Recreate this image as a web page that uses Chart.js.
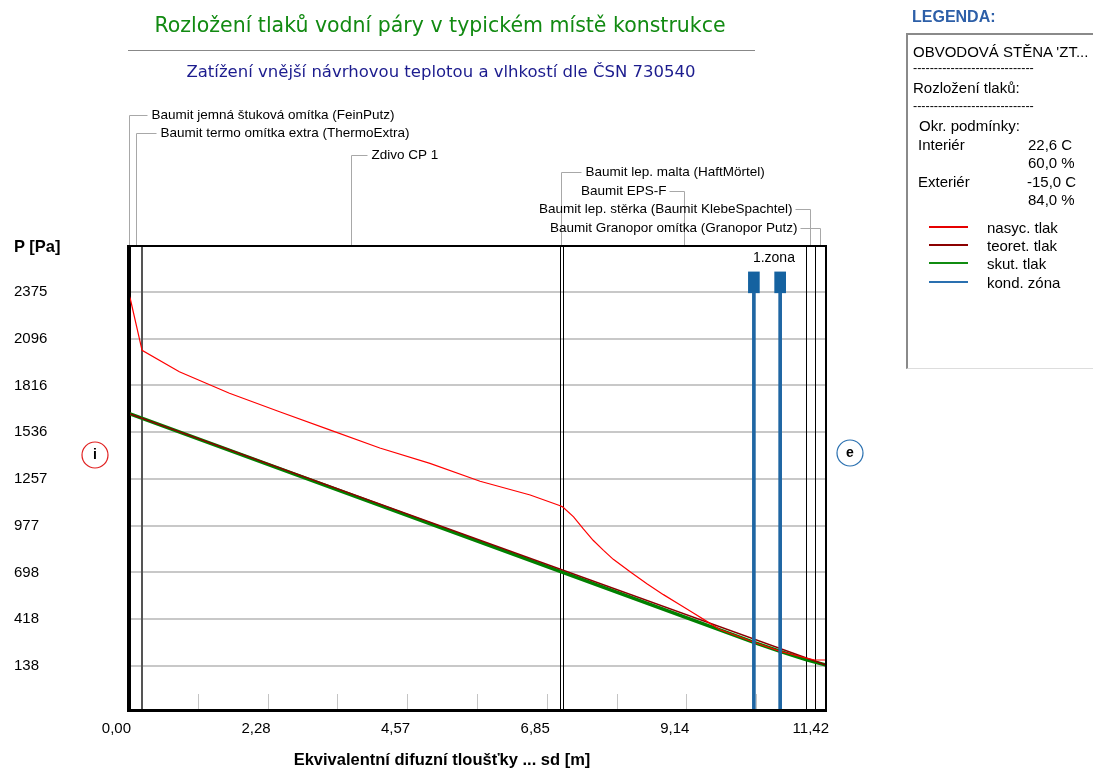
<!DOCTYPE html>
<html>
<head>
<meta charset="utf-8">
<script src="https://cdn.jsdelivr.net/npm/chart.js@4.4.1/dist/chart.umd.min.js"></script>
<style>
    body { margin: 0; background: #fff; width: 1093px; height: 769px; overflow: hidden; position: relative;
           font-family: 'Liberation Sans', Arial, sans-serif; }
    #chart { position: absolute; left: 0; top: 0; }
    .t { position: absolute; white-space: nowrap; transform: translateY(-50%); line-height: 1.2; color: #000; }
    .title { font-family: 'DejaVu Sans', sans-serif; font-size: 20.5px; color: #128a12; left: 0; width: 880px; text-align: center; }
    .sub { font-family: 'DejaVu Sans', sans-serif; font-size: 16.5px; color: #1c1c8e; left: 0; width: 882px; text-align: center; }
    .sep { position: absolute; left: 128px; top: 50px; width: 627px; height: 1px; background: #888; }
    .panel { position: absolute; left: 906px; top: 33px; width: 200px; height: 333px;
             border-left: 2px solid #8a8a8a; border-top: 2px solid #8a8a8a; border-bottom: 1px solid #ddd; }
    .leg { font-size: 15px; }
    .dash { font-size: 12.5px; }
    .sw { position: absolute; left: 929px; width: 39px; height: 2px; }
</style>
</head>
<body>
<canvas id="chart" width="900" height="769"></canvas>

<div class="t title" style="top:25px">Rozložení tlaků vodní páry v typickém místě konstrukce</div>
<div class="sep"></div>
<div class="t sub" style="top:72px">Zatížení vnější návrhovou teplotou a vlhkostí dle ČSN 730540</div>
<div class="t" style="left:14px; top:247px; font-weight:bold; font-size:16.5px">P [Pa]</div>
<div class="t" style="left:0; width:884px; text-align:center; top:760px; font-weight:bold; font-size:16.5px">Ekvivalentní difuzní tloušťky ... sd [m]</div>

<div class="t" style="left:912px; top:17px; font-weight:bold; font-size:16px; color:#2d5fa8">LEGENDA:</div>
<div class="panel"></div>
<div class="t leg" style="left:913px; top:52px">OBVODOVÁ STĚNA 'ZT...</div>
<div class="t dash" style="left:913px; top:68px">-----------------------------</div>
<div class="t leg" style="left:913px; top:88px">Rozložení tlaků:</div>
<div class="t dash" style="left:913px; top:106px">-----------------------------</div>
<div class="t leg" style="left:919px; top:126px">Okr. podmínky:</div>
<div class="t leg" style="left:918px; top:145px">Interiér</div>
<div class="t leg" style="left:1028px; top:145px">22,6 C</div>
<div class="t leg" style="left:1028px; top:163px">60,0 %</div>
<div class="t leg" style="left:918px; top:182px">Exteriér</div>
<div class="t leg" style="left:1027px; top:182px">-15,0 C</div>
<div class="t leg" style="left:1028px; top:200px">84,0 %</div>
<div id="legend-items"></div>

<script>
// osa x - ekvivalentni difuzni tloustka sd [m]
const xTickValues = [0, 2.284, 4.568, 6.852, 9.136, 11.42];
const xTickLabels = ['0,00', '2,28', '4,57', '6,85', '9,14', '11,42'];
// osa y - tlak [Pa]
const yTickValues = [138, 418, 698, 977, 1257, 1536, 1816, 2096, 2375];

// vrstvy konstrukce (interier -> exterier) a jejich hranice v sd
const layerNames = [
    'Baumit jemná štuková omítka (FeinPutz)',
    'Baumit termo omítka extra (ThermoExtra)',
    'Zdivo CP 1',
    'Baumit lep. malta (HaftMörtel)',
    'Baumit EPS-F',
    'Baumit lep. stěrka (Baumit KlebeSpachtel)',
    'Baumit Granopor omítka (Granopor Putz)'
];
const layerBounds = [0, 0.04, 0.23, 7.06, 7.11, 11.09, 11.24, 11.42];

// nasyceny tlak
const satX = [0, 0.04, 0.23, 0.84, 1.66, 2.48, 3.30, 4.12, 4.94, 5.76, 6.58, 7.06, 7.11,
              7.29, 7.45, 7.61, 7.78, 7.94, 8.22, 8.49, 8.76, 9.03, 9.25, 9.47, 9.69,
              10.24, 10.67, 11.09, 11.24, 11.42];
const satP = [2375, 2330, 2026, 1898, 1769, 1659, 1550, 1442, 1350, 1243, 1161, 1098, 1090,
              1030, 958, 890, 830, 776, 700, 630, 565, 505, 455, 405, 355,
              280, 226, 186, 174, 174];

// teoreticky tlak
const theoX = [0, 11.42];
const theoP = [1650, 144];

// skutecny tlak
const actX = [0, 10.24, 10.67, 11.09, 11.42];
const actP = [1650, 280, 226, 176, 144];

// kondenzacni zona
const zoneX = [10.24, 10.67];
const zoneName = '1.zona';

const legendItems = [
    { label: 'nasyc. tlak', color: '#e60000' },
    { label: 'teoret. tlak', color: '#8b0000' },
    { label: 'skut. tlak', color: '#108c10' },
    { label: 'kond. zóna', color: '#2a70b0' }
];

// rozvrzeni popisku vrstev (y v px, strana textu, delka vodorovne carky)
const layerLabelLayout = [
    { y: 115, side: 'right', len: 18 },
    { y: 133, side: 'right', len: 20 },
    { y: 155, side: 'right', len: 16 },
    { y: 172, side: 'right', len: 20 },
    { y: 191, side: 'left', len: 15 },
    { y: 209, side: 'left', len: 15 },
    { y: 228, side: 'left', len: 20 }
];

const yMin = -125, yMax = 2644;
const zoneMarkBottom = 2370, zoneMarkTop = 2495;
const xMax = xTickValues[xTickValues.length - 1];

// legend lines on the right
const legBox = document.getElementById('legend-items');
const legY = [227, 245, 263, 282];
legendItems.forEach((it, i) => {
    legBox.insertAdjacentHTML('beforeend',
        `<div class="sw" style="top:${legY[i] - 1}px; background:${it.color}"></div>` +
        `<div class="t leg" style="left:987px; top:${legY[i] + 1}px">${it.label}</div>`);
});

const decor = {
    id: 'decor',
    beforeDatasetsDraw(chart) {
        const { ctx, chartArea: a, scales: { x } } = chart;
        ctx.save();
        // small ticks at the bottom
        ctx.strokeStyle = '#c4c4c4';
        ctx.lineWidth = 1;
        for (let i = 1; i < 10; i++) {
            const px = Math.round(x.getPixelForValue(i * xMax / 10)) + 0.5;
            ctx.beginPath();
            ctx.moveTo(px, a.bottom - 16);
            ctx.lineTo(px, a.bottom);
            ctx.stroke();
        }
        // layer boundaries
        for (let i = 1; i < layerBounds.length - 1; i++) {
            const px = Math.round(x.getPixelForValue(layerBounds[i]));
            ctx.strokeStyle = i === 2 ? '#555' : '#000';
            ctx.lineWidth = i === 2 ? 2 : 1;
            ctx.beginPath();
            ctx.moveTo(i === 2 ? px : px + 0.5, a.top);
            ctx.lineTo(i === 2 ? px : px + 0.5, a.bottom);
            ctx.stroke();
        }
        ctx.restore();
    },
    afterDraw(chart) {
        const { ctx, chartArea: a, scales: { x } } = chart;
        ctx.save();
        // frame
        ctx.strokeStyle = '#000';
        ctx.lineWidth = 2;
        ctx.strokeRect(a.left, a.top - 1, a.right - a.left, a.bottom - a.top + 1);
        ctx.fillStyle = '#000';
        ctx.fillRect(a.left - 1, a.top - 2, 3, a.bottom - a.top + 4);
        ctx.fillRect(a.left - 1, a.bottom - 1, a.right - a.left + 2, 3);

        // layer labels with leaders
        ctx.font = '13.5px "Liberation Sans", Arial, sans-serif';
        ctx.textBaseline = 'middle';
        layerNames.forEach((name, i) => {
            const lay = layerLabelLayout[i];
            const mid = Math.round(x.getPixelForValue((layerBounds[i] + layerBounds[i + 1]) / 2)) + 0.5;
            const ly = lay.y + 0.5;
            ctx.strokeStyle = '#a8a8a8';
            ctx.lineWidth = 1;
            ctx.beginPath();
            ctx.moveTo(mid, a.top - 2);
            ctx.lineTo(mid, ly);
            ctx.lineTo(lay.side === 'right' ? mid + lay.len : mid - lay.len, ly);
            ctx.stroke();
            ctx.fillStyle = '#000';
            if (lay.side === 'right') {
                ctx.textAlign = 'left';
                ctx.fillText(name, mid + lay.len + 4, lay.y);
            } else {
                ctx.textAlign = 'right';
                ctx.fillText(name, mid - lay.len - 3, lay.y);
            }
        });

        // condensation zone label
        ctx.font = '14px "Liberation Sans", Arial, sans-serif';
        ctx.textAlign = 'left';
        ctx.fillText(zoneName, x.getPixelForValue(zoneX[0]) - 1, 258);

        // interior / exterior marks
        const marks = [
            { cx: a.left - 33, cy: 455, color: '#e02020', txt: 'i' },
            { cx: a.right + 24, cy: 453, color: '#2a70b0', txt: 'e' }
        ];
        marks.forEach(m => {
            ctx.beginPath();
            ctx.arc(m.cx, m.cy, 13, 0, Math.PI * 2);
            ctx.strokeStyle = m.color;
            ctx.lineWidth = 1.2;
            ctx.stroke();
            ctx.fillStyle = '#000';
            ctx.font = 'bold 14px "Liberation Sans", Arial, sans-serif';
            ctx.textAlign = 'center';
            ctx.fillText(m.txt, m.cx, m.cy);
        });
        ctx.restore();
    }
};

new Chart(document.getElementById('chart'), {
    type: 'line',
    data: {
        datasets: [
            {
                label: 'kond. zóna',
                type: 'bar',
                data: zoneX.map(v => ({ x: v, y: [yMin, zoneMarkBottom] })),
                backgroundColor: '#1f66a3',
                barThickness: 3,
                grouped: false
            },
            {
                label: 'kond. zóna značka',
                type: 'bar',
                data: zoneX.map(v => ({ x: v, y: [zoneMarkBottom, zoneMarkTop] })),
                backgroundColor: '#1562a0',
                barThickness: 11,
                grouped: false
            },
            {
                label: 'nasyc. tlak',
                data: satX.map((v, i) => ({ x: v, y: satP[i] })),
                borderColor: '#ff0000',
                borderWidth: 1.2,
                pointRadius: 0,
                tension: 0
            },
            {
                label: 'teoret. tlak',
                data: theoX.map((v, i) => ({ x: v, y: theoP[i] })),
                borderColor: '#8b0000',
                borderWidth: 1.6,
                pointRadius: 0
            },
            {
                label: 'skut. tlak',
                data: actX.map((v, i) => ({ x: v, y: actP[i] })),
                borderColor: '#008000',
                borderWidth: 3.5,
                pointRadius: 0
            }
        ]
    },
    options: {
        responsive: false,
        animation: false,
        layout: { padding: { left: 14, right: 74, top: 247, bottom: 0 } },
        scales: {
            x: {
                type: 'linear',
                min: 0,
                max: xMax,
                offset: false,
                afterBuildTicks: s => { s.ticks = xTickValues.map(v => ({ value: v })); },
                afterFit: s => { s.height = 59; },
                grid: { display: false, drawTicks: false, offset: false },
                border: { display: false },
                ticks: {
                    align: 'end',
                    labelOffset: 3,
                    padding: 10,
                    maxRotation: 0,
                    autoSkip: false,
                    color: '#000',
                    font: { family: 'Liberation Sans', size: 15 },
                    callback: (v, i) => xTickLabels[i]
                }
            },
            y: {
                min: yMin,
                max: yMax,
                afterBuildTicks: s => { s.ticks = yTickValues.map(v => ({ value: v })); },
                afterFit: s => { s.width = 114; },
                grid: { color: '#c8c8c8', lineWidth: 2, drawTicks: false },
                border: { display: false },
                ticks: {
                    crossAlign: 'far',
                    padding: 0,
                    color: '#000',
                    font: { family: 'Liberation Sans', size: 15 },
                    callback: v => String(v)
                }
            }
        },
        plugins: {
            legend: { display: false },
            tooltip: { enabled: false }
        }
    },
    plugins: [decor]
});
</script>
</body>
</html>
